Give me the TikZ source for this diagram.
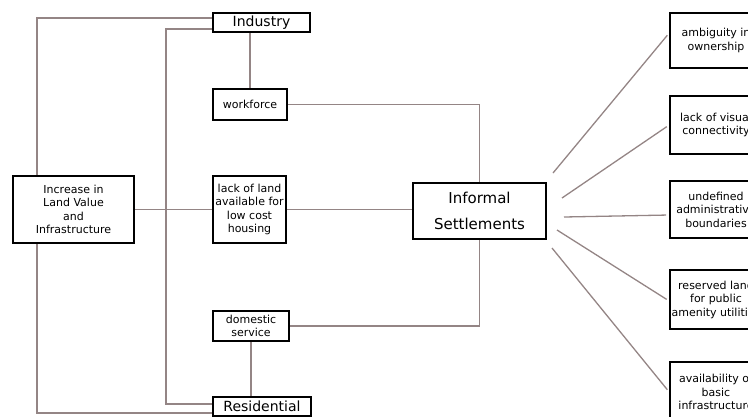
\documentclass[tikz,border=0pt]{standalone}
\usepackage{fontspec}
\setmainfont{DejaVu Sans}
\usetikzlibrary{backgrounds}
\tikzset{
  box/.style={draw=black, line width=1.6pt, fill=white, inner sep=0pt, align=center,
    font=\fontsize{11}{13.5}\selectfont},
  bigbox/.style={box, font=\fontsize{14}{16}\selectfont},
  link/.style={draw=linkc, line width=1.5pt},
  fan/.style={draw=linkc, line width=1.3pt, shorten >=3pt},
}
\definecolor{linkc}{HTML}{948585}
\begin{document}
\begin{tikzpicture}[x=1pt,y=-1pt]
\useasboundingbox (0,0) rectangle (748,416);
\begin{scope}
\clip (0,0) rectangle (748,416);
\node[bigbox, minimum width=97pt, minimum height=19pt] (ind) at (261.5,22.5) {Industry};
\node[box, minimum width=74pt, minimum height=31pt] (wf) at (250,104.5) {workforce};
\node[box, minimum width=73pt, minimum height=67pt] (lol) at (249.5,209.5) {lack of land\\available for\\low cost\\housing};
\node[box, minimum width=76pt, minimum height=30pt] (dom) at (251,326) {domestic\\service};
\node[bigbox, minimum width=98pt, minimum height=19pt] (res) at (262,406.5) {Residential};
\node[box, minimum width=121pt, minimum height=67pt] (inc) at (73.5,209.5) {Increase in\\Land Value\\and\\Infrastructure};
\node[box, minimum width=133pt, minimum height=56pt, font=\fontsize{15}{26}\selectfont] (inf) at (479.5,211) {Informal\\Settlements};
\node[box, minimum width=92pt, minimum height=55pt] (r1) at (716,40.5) {ambiguity in\\ownership};
\node[box, minimum width=92pt, minimum height=58pt] (r2) at (716,125) {lack of visual\\connectivity};
\node[box, minimum width=92pt, minimum height=57pt] (r3) at (716,209.5) {undefined\\administrative\\boundaries};
\node[box, minimum width=92pt, minimum height=59pt] (r4) at (716,299.5) {reserved land\\for public\\amenity utilities};
\node[box, minimum width=92pt, minimum height=60pt] (r5) at (716,392) {availability of\\basic\\infrastructure};
\coordinate (s1) at (553,173);
\coordinate (s2) at (562,198);
\coordinate (s3) at (564,217);
\coordinate (s4) at (557,230);
\coordinate (s5) at (552,248);
\begin{scope}[on background layer]
\draw[link] ([yshift=4.5pt]ind.west) -| (37,300) |- ([yshift=-6.5pt]res.west);
\draw[link] ([yshift=-6.5pt]ind.west) -| (166,300) |- ([yshift=2.5pt]res.west);
\draw[link] (inc.east) -- (lol.west);
\draw[link] (wf.north) -- (wf.north |- ind.south);
\draw[link] (dom.south) -- (dom.south |- res.north);
\draw[link] (wf.east) -| (inf.north);
\draw[link] (lol.east) -- (lol.east -| inf.west);
\draw[link] (dom.east) -| (inf.south);
\draw[fan] (s1) -- ([yshift=7.5pt]r1.west);
\draw[fan] (s2) -- (r2.west);
\draw[fan] (s3) -- ([yshift=-5.5pt]r3.west);
\draw[fan] (s4) -- ([yshift=-1.5pt]r4.west);
\draw[fan] (s5) -- (r5.west);
\end{scope}
\end{scope}
\end{tikzpicture}
\end{document}
